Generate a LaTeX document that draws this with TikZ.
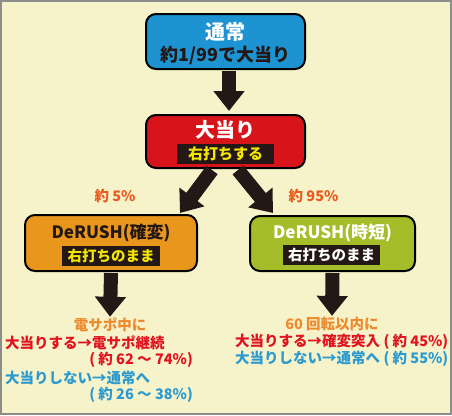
\documentclass[tikz,border=0pt]{standalone}
\usepackage{fontspec}
\setmainfont{Noto Sans CJK JP}
\usetikzlibrary{arrows.meta}

\definecolor{bgyellow}{HTML}{F6F3CB}
\definecolor{framegray}{HTML}{8C8C8C}
\definecolor{boxblue}{HTML}{1E93D2}
\definecolor{boxred}{HTML}{D8141B}
\definecolor{boxorange}{HTML}{E9961C}
\definecolor{boxgreen}{HTML}{A6BD2A}
\definecolor{tagblack}{HTML}{231815}
\definecolor{tagyellow}{HTML}{F3E600}
\definecolor{pctorange}{HTML}{E95A1B}
\definecolor{resorange}{HTML}{EE8A2E}
\definecolor{resred}{HTML}{E0131F}
\definecolor{resblue}{HTML}{2A9AD0}

\tikzset{
  flowbox/.style={draw=black, line width=2pt, rounded corners=10pt, inner sep=0pt},
  boxtitle/.style={inner sep=0pt, font=\bfseries\fontsize{18}{18}\selectfont},
  tag/.style={fill=tagblack, inner sep=0pt, minimum width=97pt, minimum height=20pt,
    font=\bfseries\fontsize{15}{15}\selectfont},
  bigarrow/.style={draw=tagblack, line width=14pt, -{Triangle[width=30pt,length=20pt]}},
  result/.style={inner sep=0pt, font=\bfseries\fontsize{14.5}{17}\selectfont}
}

\begin{document}
\begin{tikzpicture}[x=1pt,y=-1pt]
			% Background and frame
			\fill[bgyellow] (0,0) rectangle (452,415);
			\draw[framegray, line width=2pt] (1,1) rectangle (451,414);
			\useasboundingbox (0,0) rectangle (452,415);
			
			% Draw boxes
			\node[flowbox, fill=boxblue, minimum width=159pt, minimum height=55pt] (tsujo) at (225.5,41.5) {};
			\node[flowbox, fill=boxred, minimum width=159pt, minimum height=53pt] (ooatari) at (225.5,141.5) {};
			\node[flowbox, fill=boxorange, minimum width=172pt, minimum height=56pt] (kakuhen) at (111,243) {};
			\node[flowbox, fill=boxgreen, minimum width=165pt, minimum height=55pt] (jitan) at (332.5,243.5) {};
			
			% Add box texts
			\node[boxtitle, text=white, font=\bfseries\fontsize{20}{20}\selectfont] (tsujotitle) at (225.5,32) {通常};
			\node[boxtitle, text=tagblack] (tsujoprob) at (225.5,55) {約1/99で大当り};
			\node[boxtitle, text=white, font=\bfseries\fontsize{20}{20}\selectfont] (ooatarititle) at (225.5,129.5) {大当り};
			\node[tag, text=tagyellow] (ooataritag) at (225.5,153.5) {右打ちする};
			\node[boxtitle, text=tagblack, font=\bfseries\fontsize{17}{17}\selectfont] (kakuhentitle) at (111,232.5) {DeRUSH(確変)};
			\node[tag, text=tagyellow, minimum width=98pt, font=\bfseries\fontsize{14.5}{14.5}\selectfont] (kakuhentag) at (111,256) {右打ちのまま};
			\node[boxtitle, text=white, font=\bfseries\fontsize{17}{17}\selectfont] (jitantitle) at (332.5,232.5) {DeRUSH(時短)};
			\node[tag, text=white, font=\bfseries\fontsize{14.5}{14.5}\selectfont] (jitantag) at (331.5,255) {右打ちのまま};
			
			% Percent labels
			\node[result, text=pctorange] (pctkakuhen) at (115,196) {約 5\%};
			\node[result, text=pctorange] (pctjitan) at (313.5,196) {約 95\%};
			
			% Results under the boxes
			\node[result, text=resorange] (kakuhenres) at (110,325) {電サポ中に};
			\node[result, text=resred, anchor=west] (kakuhenhit) at (5,343) {大当りする→電サポ継続};
			\node[result, text=resred, anchor=east] (kakuhenhitpct) at (193,360) {( 約 62 ～ 74\%)};
			\node[result, text=resblue, anchor=west] (kakuhenmiss) at (5,378) {大当りしない→通常へ};
			\node[result, text=resblue, anchor=east] (kakuhenmisspct) at (193,395) {( 約 26 ～ 38\%)};
			\node[result, text=resorange] (jitanres) at (332,324) {60 回転以内に};
			\node[result, text=resred, anchor=west] (jitanhit) at (235,342) {大当りする→確変突入 ( 約 45\%)};
			\node[result, text=resblue, anchor=west] (jitanmiss) at (235,359) {大当りしない→通常へ ( 約 55\%)};
			
			% Draw arrows
			\draw[bigarrow] ([xshift=3.5pt,yshift=-1pt]tsujo.south) -- ([xshift=3.5pt,yshift=3pt]ooatari.north);
			\draw[bigarrow] ([xshift=-13.5pt,yshift=-1pt]ooatari.south) -- ([xshift=69pt,yshift=1pt]kakuhen.north);
			\draw[bigarrow] ([xshift=12.5pt,yshift=-1pt]ooatari.south) -- ([xshift=-59.5pt,yshift=2pt]jitan.north);
			\draw[bigarrow] ([yshift=-1pt]kakuhen.south) -- ([yshift=1pt]kakuhenres.north);
			\draw[bigarrow] ([yshift=-1pt]jitan.south) -- ([yshift=1pt]jitanres.north);
\end{tikzpicture}
\end{document}
